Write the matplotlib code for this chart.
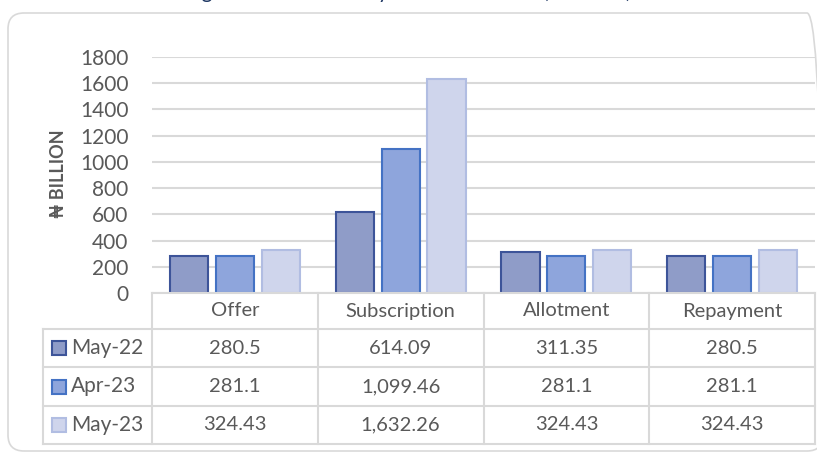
import numpy as np
import matplotlib.pyplot as plt
from matplotlib.patches import FancyBboxPatch, Rectangle
from matplotlib.transforms import IdentityTransform

plt.rcParams['font.family'] = ['Lato', 'DejaVu Sans']

# chart data
categories = ['Offer', 'Subscription', 'Allotment', 'Repayment']
series = ['May-22', 'Apr-23', 'May-23']
may22 = [280.5, 614.09, 311.35, 280.5]
apr23 = [281.1, 1099.46, 281.1, 281.1]
may23 = [324.43, 1632.26, 324.43, 324.43]
yticks = list(range(0, 1801, 200))

fills = ['#8f9cc8', '#8ea5dc', '#cfd5ec']
edges = ['#3d5499', '#4472c4', '#b1bde2']
grey = '#595959'
line_c = '#d9d9d9'

W, H = 817, 453
fig = plt.figure(figsize=(W / 100, H / 100), dpi=100)


def fx(x):
    return x / W


def fy(y):
    return 1 - y / H


# outer rounded frame in pixel units (right side runs past the image edge)
fig.patches.append(FancyBboxPatch((8, H - 451), 815, 438,
                                  boxstyle='round,pad=0,rounding_size=16',
                                  transform=IdentityTransform(), fc='none',
                                  ec=line_c, lw=1.2))

# title, almost entirely above the top edge of the image
fig.text(fx(408), fy(-2), "Figure 4: NTB Primary Market Auction (\u20a6'Billion)",
         fontsize=15, color='#1f3864', ha='center', va='baseline')

left, right = 152, 815
ax = fig.add_axes([fx(left), fy(293), fx(right - left), (293 - 57) / H])
x = np.arange(len(categories))
bw = 0.23
off = 0.277
for i, vals in enumerate([may22, apr23, may23]):
    ax.bar(x + (i - 1) * off, vals, bw, color=fills[i], edgecolor=edges[i],
           linewidth=1.5, zorder=3)

ax.set_xlim(-0.5, len(categories) - 0.5)
ax.set_ylim(0, 1800)
ax.set_yticks(yticks)
ax.set_yticklabels([str(t) for t in yticks], fontsize=15, color=grey)
ax.tick_params(axis='y', length=0, pad=17)
ax.set_xticks([])
ax.grid(axis='y', color=line_c, lw=1.5, zorder=0)
for s in ax.spines.values():
    s.set_visible(False)
fig.text(fx(58), fy(174), '\u20a6 BILLION', rotation=90, fontsize=13,
         fontweight='bold', color=grey, ha='center', va='center')

# data table below the chart
col_x = list(np.linspace(left, right, len(categories) + 1))
row_y = [293, 329, 367, 406, 444]


def hline(y, x0, x1):
    fig.add_artist(plt.Line2D([fx(x0), fx(x1)], [fy(y), fy(y)], color=line_c,
                              lw=1.5, transform=fig.transFigure))


def vline(x, y0, y1):
    fig.add_artist(plt.Line2D([fx(x), fx(x)], [fy(y0), fy(y1)], color=line_c,
                              lw=1.5, transform=fig.transFigure))


hline(row_y[0], col_x[0], col_x[-1])
for y in row_y[1:]:
    hline(y, 43, col_x[-1])
for cx in col_x:
    vline(cx, row_y[0], row_y[-1])
vline(43, row_y[1], row_y[-1])

for j, cat in enumerate(categories):
    fig.text(fx((col_x[j] + col_x[j + 1]) / 2), fy((row_y[0] + row_y[1]) / 2),
             cat, fontsize=14.5, color=grey, ha='center', va='center')

for i, (name, vals) in enumerate(zip(series, [may22, apr23, may23])):
    yc = (row_y[i + 1] + row_y[i + 2]) / 2
    fig.add_artist(Rectangle((fx(52), fy(yc + 7)), fx(14), 14 / H,
                             fc=fills[i], ec=edges[i], lw=1.5,
                             transform=fig.transFigure))
    fig.text(fx(71), fy(yc), name, fontsize=15, color=grey, ha='left',
             va='center')
    for j, v in enumerate(vals):
        fig.text(fx((col_x[j] + col_x[j + 1]) / 2), fy(yc), f'{v:,}',
                 fontsize=14.5, color=grey, ha='center', va='center')

fig.savefig('out.png', dpi=100)
